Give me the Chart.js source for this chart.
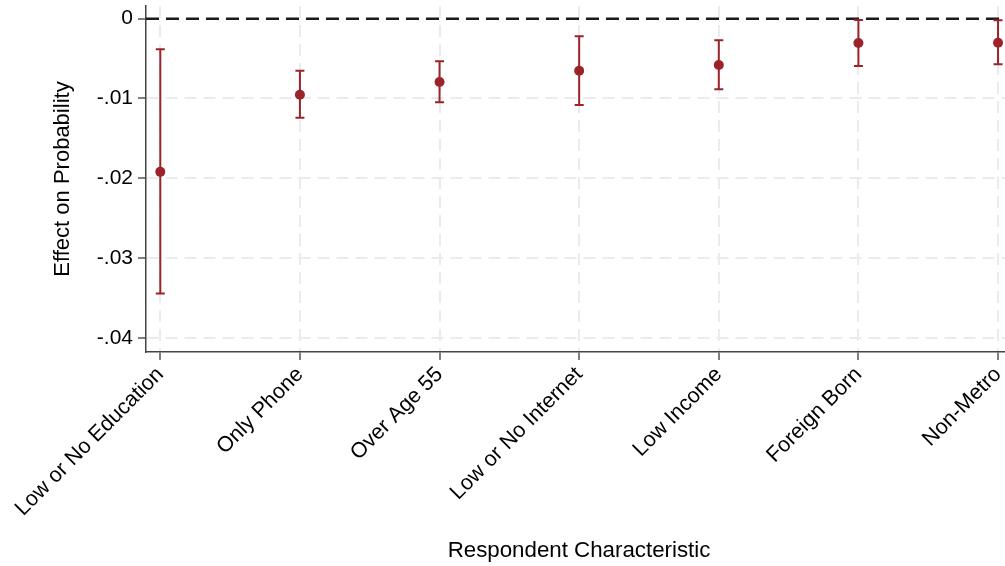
<!DOCTYPE html>
<html><head><meta charset="utf-8">
<script src="https://cdn.jsdelivr.net/npm/chart.js@4.4.1/dist/chart.umd.min.js"></script>
<style>html,body{margin:0;padding:0;background:#fff;overflow:hidden;width:1005px;height:566px}</style>
</head><body>
<canvas id="c" width="1017" height="566" style="display:block"></canvas>
<script>
const categories = ["Low or No Education","Only Phone","Over Age 55","Low or No Internet","Low Income","Foreign Born","Non-Metro"];
const estimates = [-0.0192,-0.00954,-0.00794,-0.00652,-0.00581,-0.00305,-0.00301];
const ciLower = [-0.03446,-0.01242,-0.01049,-0.01083,-0.00886,-0.00593,-0.00572];
const ciUpper = [-0.00384,-0.00652,-0.00535,-0.00221,-0.00271,-0.00016,-0.0002];
const yTickValues = [0,-0.01,-0.02,-0.03,-0.04];
const yTickLabels = ["0","-.01","-.02","-.03","-.04"];
const referenceValue = 0;

const RED = 'rgb(155,35,42)';
const FONT = '"Liberation Sans", Arial, Helvetica, sans-serif';
Chart.defaults.font.family = FONT;
Chart.defaults.color = '#000';

const refLinePlugin = {
  id: 'refLine',
  beforeDatasetsDraw(chart) {
    const {ctx, chartArea, scales} = chart;
    const y = scales.y.getPixelForValue(referenceValue);
    ctx.save();
    ctx.strokeStyle = '#1a1a1a';
    ctx.lineWidth = 2.5;
    ctx.setLineDash([13, 7]);
    ctx.beginPath();
    ctx.moveTo(chartArea.left, y);
    ctx.lineTo(chartArea.right, y);
    ctx.stroke();
    ctx.restore();
  }
};

const errorBarPlugin = {
  id: 'errorBars',
  beforeDatasetsDraw(chart) {
    const {ctx, scales} = chart;
    ctx.save();
    ctx.strokeStyle = RED;
    ctx.lineWidth = 2;
    ctx.setLineDash([]);
    categories.forEach((c, i) => {
      const x = scales.x.getPixelForValue(i);
      const y1 = scales.y.getPixelForValue(ciLower[i]);
      const y2 = scales.y.getPixelForValue(ciUpper[i]);
      ctx.beginPath();
      ctx.moveTo(x, y1); ctx.lineTo(x, y2);
      ctx.moveTo(x - 4.5, y1); ctx.lineTo(x + 4.5, y1);
      ctx.moveTo(x - 4.5, y2); ctx.lineTo(x + 4.5, y2);
      ctx.stroke();
    });
    ctx.restore();
  }
};

new Chart(document.getElementById('c'), {
  type: 'scatter',
  data: {
    datasets: [{
      data: categories.map((c, i) => ({x: i, y: estimates[i]})),
      backgroundColor: RED,
      borderColor: RED,
      borderWidth: 0,
      pointRadius: 5,
      pointHoverRadius: 5
    }]
  },
  options: {
    responsive: false,
    animation: false,
    devicePixelRatio: 1,
    layout: {padding: {top: 6, left: 0, right: 0, bottom: 0}},
    plugins: {legend: {display: false}, tooltip: {enabled: false}},
    scales: {
      x: {
        type: 'linear',
        position: 'bottom',
        min: -0.1024,
        max: 6.1,
        afterBuildTicks: (s) => { s.ticks = categories.map((c, i) => ({value: i})); },
        afterFit: (s) => { s.height = 214; s.paddingLeft = 0; s.paddingRight = 0; },
        ticks: {
          autoSkip: false,
          maxRotation: 45,
          minRotation: 45,
          padding: 2,
          color: '#000',
          font: {size: 21.5},
          callback: (v) => categories[v]
        },
        grid: {
          color: '#ebebeb',
          lineWidth: 2,
          tickColor: '#555',
          tickWidth: 1.5,
          tickLength: 8
        },
        border: {color: '#444', width: 1.5, dash: [12, 7]},
        title: {
          display: true,
          text: 'Respondent Characteristic',
          color: '#000',
          font: {size: 22.3},
          padding: {top: 0, bottom: 2}
        }
      },
      y: {
        min: -0.04178,
        max: 0.00159,
        afterBuildTicks: (s) => { s.ticks = yTickValues.map(v => ({value: v})); },
        afterFit: (s) => { s.width = 146; s.paddingTop = 0; s.paddingBottom = 0; },
        ticks: {
          padding: 5,
          color: '#000',
          font: {size: 21},
          callback: (v) => yTickLabels[yTickValues.indexOf(v)]
        },
        grid: {
          color: (ctx) => (ctx.tick && ctx.tick.value === referenceValue) ? 'rgba(0,0,0,0)' : '#ebebeb',
          lineWidth: 2,
          tickColor: '#555',
          tickWidth: 1.5,
          tickLength: 8
        },
        border: {color: '#444', width: 1.5, dash: [12, 7]},
        title: {
          display: true,
          text: 'Effect on Probability',
          color: '#000',
          font: {size: 22},
          padding: {top: 50, bottom: 0}
        }
      }
    }
  },
  plugins: [refLinePlugin, errorBarPlugin]
});
</script>
</body></html>
